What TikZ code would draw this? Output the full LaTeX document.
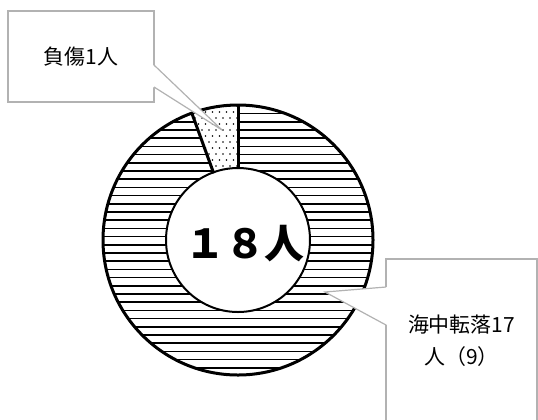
\documentclass[tikz,border=0pt]{standalone}
\usepackage{fontspec}
\setmainfont{Noto Sans CJK JP}
\usetikzlibrary{calc}
\begin{document}
\begin{tikzpicture}[
    x=1bp, y=-1bp,
    hatch/.style={
        line width=1.6bp
    },
    rim/.style={
        line width=3bp
    },
    dots/.style={
        fill=white,
        path picture={
            \foreach \y in {106,118,...,174}
                \foreach \x in {188,195,...,246}
                    \fill[black] (\x,\y) circle[radius=0.9];
            \foreach \y in {112,124,...,174}
                \foreach \x in {191.5,198.5,...,246}
                    \fill[black] (\x,\y) circle[radius=0.9];
        }
    },
    callout/.style={
        rectangle,
        draw=black!30,
        fill=white,
        line width=1.2bp,
        align=center,
        font=\fontsize{21}{32}\selectfont
    },
    tip/.style={
        draw=black!30,
        line width=1.2bp
    }
]

\clip (0,0) rectangle (538,419);

% Centro
\coordinate (c) at (238,240);

% Righe orizzontali
\begin{scope}
    \clip (c) circle[radius=135];
    \foreach \y in {105.4,113.6,...,380}
        \draw[hatch] (100,\y) -- (380,\y);
\end{scope}

% Settore puntinato
\path[dots] ($(c)+(-110:72)$) -- ($(c)+(-110:135)$)
    arc[start angle=-110, end angle=-90, radius=135]
    -- ($(c)+(-90:72)$)
    arc[start angle=-90, end angle=-110, radius=72] -- cycle;

% Cerchi e divisori
\draw[line width=2bp, fill=white] (c) circle[radius=72];
\draw[rim] (c) circle[radius=135];
\draw[rim] ($(c)+(-90:71)$) -- ($(c)+(-90:135)$);
\draw[rim] ($(c)+(-110:71)$) -- ($(c)+(-110:135)$);

% Totale
\node[font=\bfseries\fontsize{40}{40}\selectfont] (total) at (245,244) {１８人};

% Etichette
\node[callout, minimum width=146bp, minimum height=91bp] (injury) at (81,56.5) {負傷1人};
\coordinate (injurytip) at (222,130);
\fill[white] (153,65) -- (injurytip) -- (153,87) -- cycle;
\draw[tip] (154,65) -- (injurytip) -- (154,87);

\node[callout, minimum width=151bp, minimum height=164bp] (fall) at (461.5,341) {海中転落17\\人（9）};
\coordinate (falltip) at (325,292);
\fill[white] (387,287) -- (falltip) -- (387,325) -- cycle;
\draw[tip] (386,287) -- (falltip) -- (386,325);

\end{tikzpicture}
\end{document}
